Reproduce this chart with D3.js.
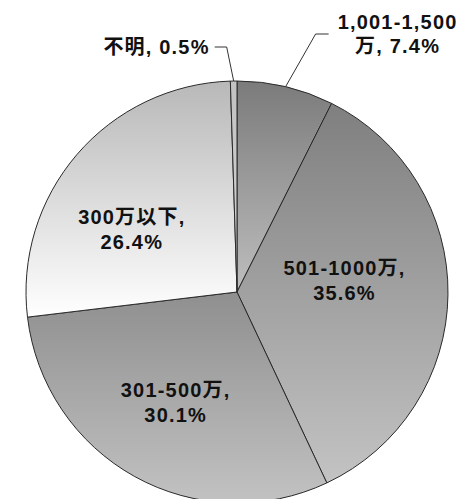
<!DOCTYPE html>
<html>
<head>
<meta charset="utf-8">
<script src="https://cdn.jsdelivr.net/npm/d3@7/dist/d3.min.js"></script>
<style>
  html, body { margin: 0; padding: 0; background: #fff; }
  svg text { font-family: "Liberation Sans", "Noto Sans CJK JP", sans-serif; font-weight: bold; font-size: 20px; letter-spacing: 1.2px; fill: #111; }
</style>
</head>
<body>
<div id="chart"></div>
<script>
// income brackets, clockwise from 12 o'clock
var categories = ["1,001-1,500万", "501-1000万", "301-500万", "300万以下", "不明"];
var shares = [7.4, 35.6, 30.1, 26.4, 0.5];
// how each data label is broken over lines
var labelLines = [
  ["1,001-1,500", "万, 7.4%"],
  ["501-1000万,", "35.6%"],
  ["301-500万,", "30.1%"],
  ["300万以下,", "26.4%"],
  ["不明, 0.5%"]
];

var width = 466, height = 499;
var cx = 237, cy = 292, radius = 211;

// per slice vertical gradient (top -> bottom)
var gradTop = ["#7b7b7b", "#7f7f7f", "#8f8f8f", "#b8b8b8", "#c2c2c2"];
var gradBottom = ["#bebebe", "#c3c3c3", "#c2c2c2", "#ffffff", "#d4d4d4"];

// label placement: inner labels as [angle offset, radius fraction, dy];
// outer labels get an elbow leader
var inside = [false, true, true, true, false];
var labelPos = [null, [-0.06, 0.51, -6], [0, 0.6, 0], [-0.12, 0.6, 8], null];

var svg = d3.select("#chart").append("svg")
  .attr("width", width)
  .attr("height", height);

var defs = svg.append("defs");
shares.forEach(function(v, i) {
  var g = defs.append("linearGradient")
    .attr("id", "grad" + i)
    .attr("x1", 0).attr("y1", 0).attr("x2", 0).attr("y2", 1);
  g.append("stop").attr("offset", "0%").attr("stop-color", gradTop[i]);
  g.append("stop").attr("offset", "100%").attr("stop-color", gradBottom[i]);
});

var pie = d3.pie().sort(null).value(function(d) { return d; });
var arcs = pie(shares);
var arc = d3.arc().innerRadius(0).outerRadius(radius);

var g = svg.append("g").attr("transform", "translate(" + cx + "," + cy + ")");

g.selectAll("path.slice")
  .data(arcs)
  .enter().append("path")
  .attr("class", "slice")
  .attr("d", arc)
  .attr("fill", function(d, i) { return "url(#grad" + i + ")"; })
  .attr("stroke", "#2a2a2a")
  .attr("stroke-width", 1)
  .attr("stroke-linejoin", "round");

function polar(a, r) {
  return [r * Math.sin(a), -r * Math.cos(a)];
}

var lineH = 25;

arcs.forEach(function(d, i) {
  var mid = (d.startAngle + d.endAngle) / 2;
  var lines = labelLines[i];
  if (inside[i]) {
    var p = polar(mid + labelPos[i][0], radius * labelPos[i][1]);
    var t = g.append("text")
      .attr("text-anchor", "middle")
      .attr("x", p[0])
      .attr("y", p[1] + labelPos[i][2] - (lines.length - 1) * lineH / 2 + 7);
    lines.forEach(function(s, k) {
      t.append("tspan").attr("x", p[0]).attr("dy", k ? lineH : 0).text(s);
    });
  } else {
    var edge = polar(mid, radius);
    var right = mid < Math.PI;
    var elbow = right ? [edge[0] + 30, -258] : [edge[0] - 7, -245];
    var end = right ? [elbow[0] + 13, elbow[1]] : [elbow[0] - 12, elbow[1]];
    g.append("path")
      .attr("d", d3.line()([edge, elbow, end]))
      .attr("fill", "none")
      .attr("stroke", "#333")
      .attr("stroke-width", 1);
    var tx = right ? end[0] + 69 : end[0] - 5;
    var t2 = g.append("text")
      .attr("text-anchor", right ? "middle" : "end")
      .attr("x", tx)
      .attr("y", end[1] - (lines.length - 1) * lineH / 2 + 7);
    lines.forEach(function(s, k) {
      t2.append("tspan").attr("x", tx).attr("dy", k ? lineH - 1 : 0).text(s);
    });
  }
});
</script>
</body>
</html>
